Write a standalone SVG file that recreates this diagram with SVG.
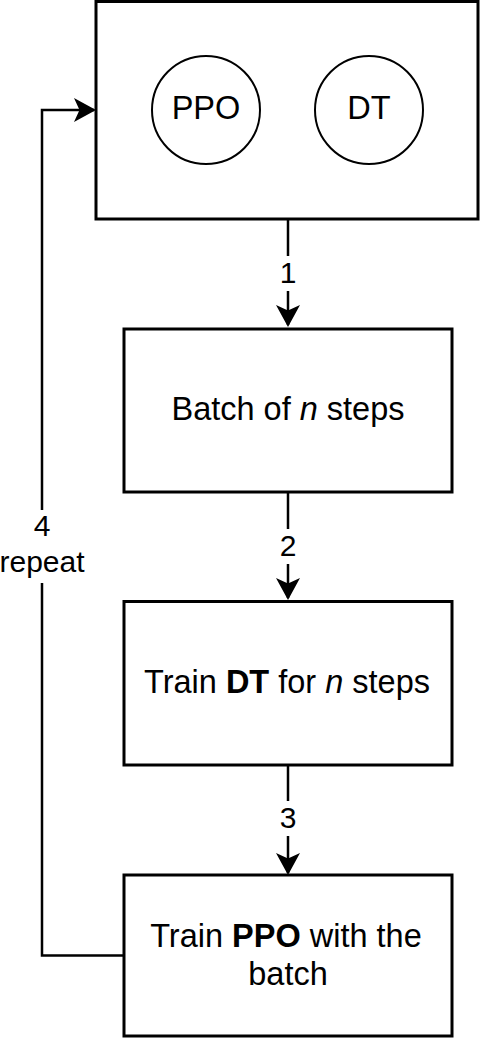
<svg xmlns="http://www.w3.org/2000/svg" width="480" height="1042" viewBox="0 0 480 1042">
  <style>
    .box { fill: #ffffff; stroke: #000000; stroke-width: 3; }
    .circ { fill: #ffffff; stroke: #000000; stroke-width: 2; }
    .txt { font-family: "Liberation Sans", Arial, sans-serif; font-size: 32.5px; fill: #000000; text-anchor: middle; }
    .lbl { font-family: "Liberation Sans", Arial, sans-serif; font-size: 30px; fill: #000000; text-anchor: middle; }
    .edge { fill: none; stroke: #000000; stroke-width: 2.5; }
    .lblbg { fill: #ffffff; stroke: none; }
  </style>
  <defs>
    <marker id="arrow" markerUnits="userSpaceOnUse" markerWidth="26" markerHeight="28" viewBox="-1 -13 26 26" refX="20" refY="0" orient="auto">
      <path d="M0,-12 L22,0 L0,12 L5.5,0 Z" fill="#000000"/>
    </marker>
  </defs>
  <rect width="480" height="1042" fill="#ffffff"/>

  <g id="connectors">
    <path id="edge1" class="edge" d="M288,219 V325" marker-end="url(#arrow)"/>
    <path id="edge2" class="edge" d="M288,492 V598" marker-end="url(#arrow)"/>
    <path id="edge3" class="edge" d="M288,765 V873" marker-end="url(#arrow)"/>
    <path id="edge4" class="edge" d="M124,955.5 H42 V110 H94" marker-end="url(#arrow)"/>
    <rect class="lblbg" x="275" y="256" width="26" height="35"/>
    <text class="lbl" x="288" y="283">1</text>
    <rect class="lblbg" x="275" y="529" width="26" height="35"/>
    <text class="lbl" x="288" y="556">2</text>
    <rect class="lblbg" x="275" y="801" width="26" height="35"/>
    <text class="lbl" x="288" y="828">3</text>
    <rect class="lblbg" x="0" y="510" width="88" height="73"/>
    <text class="lbl" x="42" y="536">4</text>
    <text class="lbl" x="42" y="572">repeat</text>
  </g>

  <g id="models">
    <rect class="box" x="96" y="1.5" width="382" height="217.5"/>
    <g id="ppo">
      <circle class="circ" cx="206" cy="110" r="54"/>
      <text class="txt" x="206" y="119">PPO</text>
    </g>
    <g id="dt">
      <circle class="circ" cx="369" cy="110" r="54"/>
      <text class="txt" x="369" y="119">DT</text>
    </g>
  </g>

  <g id="batch">
    <rect class="box" x="124" y="329" width="328" height="163"/>
    <text class="txt" x="288" y="420">Batch of <tspan font-style="italic">n</tspan> steps</text>
  </g>

  <g id="train-dt">
    <rect class="box" x="124" y="601.5" width="328" height="163.5"/>
    <text class="txt" x="287" y="693">Train <tspan font-weight="bold">DT</tspan> for <tspan font-style="italic">n</tspan> steps</text>
  </g>

  <g id="train-ppo">
    <rect class="box" x="124" y="875" width="328" height="161"/>
    <text class="txt" x="286" y="947">Train <tspan font-weight="bold">PPO</tspan> with the</text>
    <text class="txt" x="288" y="985">batch</text>
  </g>
</svg>
